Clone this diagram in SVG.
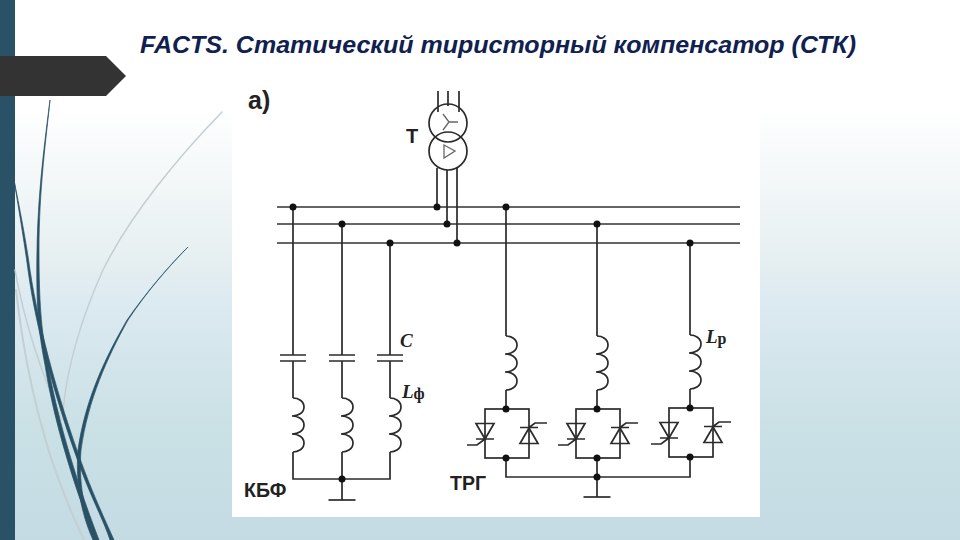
<svg xmlns="http://www.w3.org/2000/svg" width="960" height="540" viewBox="0 0 960 540">
<style>
.w{fill:none;stroke:#2b2b2b;stroke-width:1.7}
.b{fill:none;stroke:#333;stroke-width:1.6}
.d{fill:#111;stroke:none}
.dc{fill:#2a5266;stroke:#2a5266;stroke-width:0.7;stroke-linejoin:round}
.gr{fill:none;stroke:#c4cfd2;stroke-linecap:round}
.s{font-family:"Liberation Sans",Arial,sans-serif;font-weight:bold;fill:#222}
.i{font-family:"Liberation Serif","Times New Roman",serif;font-style:italic;font-weight:bold;fill:#222}
.sub{font-family:"Liberation Serif","Times New Roman",serif;font-weight:bold;fill:#222}
</style>
<defs>
<linearGradient id="bg" x1="0" y1="0" x2="0" y2="1">
<stop offset="0.2" stop-color="#ffffff"/>
<stop offset="0.48" stop-color="#e6eff1"/>
<stop offset="0.56" stop-color="#dceaf1"/>
<stop offset="0.8" stop-color="#c9e0e5"/>
<stop offset="1" stop-color="#c5dbe4"/>
</linearGradient>
<path id="coil" class="w" d="M0,0C5,0 11,3 11,9C11,15 5,18 -1,18C5,18 11,21 11,27C11,33 5,36 -1,36C5,36 11,39 11,45C11,51 5,54 0,54"/>
<g id="cap"><path class="w" d="M-13,0H13M-13,6H13"/></g>
<g id="thy">
<rect class="w" x="-21" y="0" width="44" height="49"/>
<path class="w" d="M-30,14.500H-12L-21,30ZM-30,30H-12M-21,30L-29,36H-39"/>
<path class="w" d="M14,34.500H32L23,19ZM14,18.500H32M23,18.500L29,14H41"/>
</g>
<g id="gnd"><path class="w" d="M-13.500,0H13.500"/></g>
</defs>
<rect id="background" width="960" height="540" fill="url(#bg)"/>
<rect id="sidebar" width="15" height="540" fill="#2a5266"/>
<g id="decor">
<path class="gr" stroke-width="1.500" d="M222,112C180,155 130,215 103,270C85,310 68,360 63,410"/>
<path class="gr" stroke-width="2" d="M16,290C22,340 30,390 50,455C60,485 72,515 84,540"/>
<path class="gr" stroke-width="1.500" d="M15,270C24,320 40,370 62,420"/>
<path class="dc" d="M50,100C45,140 38,190 37,250C36,300 38,330 45,365C52,410 68,470 95,540L99,540C72,470 56,410 48,365C41,330 39,300 39,250C39,190 46,140 50,100Z"/>
<path class="dc" d="M14,180C18,205 24,240 28,270C36,330 58,410 85,480C95,505 104,522 110,540L114,540C106,522 98,505 88,480C61,410 39,330 30,270C26,240 19,205 14,180Z"/>
<path class="dc" d="M188,247C170,265 148,290 127,320C105,358 85,400 78,450C75,490 84,520 93,540L97,540C87,520 78,490 81,450C88,400 107,358 128,320C148,290 170,265 188,247Z"/>
</g>
<g id="title-arrow"><path d="M0,56H106L126,76L106,96H0Z" fill="#333333"/></g>
<rect id="panel" x="232" y="80" width="528" height="437" fill="#ffffff"/>
<text id="title" x="140" y="53" font-family="'Liberation Sans',Arial,sans-serif" font-size="23" font-style="italic" font-weight="bold" fill="#10204f" textLength="716" lengthAdjust="spacingAndGlyphs">FACTS. Статический тиристорный компенсатор (СТК)</text>
<g id="connectors">
<path class="b" d="M277,207H740M277,224H740M277,243H740"/>
<path class="w" d="M438,91V112M448,91V106M459,91V112"/>
<path class="w" d="M437,168V207M447,170V224M457,168V243"/>
<path class="w" d="M293,207V355M293,361V398M293,452V479H390V452M390,243V355M390,361V398"/>
<path class="w" d="M342,224V355M342,361V398M342,452V500"/>
<path class="w" d="M506,207V336M506,390V409M506,458V477H690V458M597,224V336M597,390V409M597,458V497M690,243V335M690,389V408"/>
</g>
<g id="transformer-T">
<circle class="w" cx="448" cy="123" r="19"/>
<circle class="w" cx="448" cy="151" r="19"/>
<path d="M449,122L443,114M449,122L458,122M449,122L443,130" fill="none" stroke="#666" stroke-width="1.300"/>
<path d="M444,145L455,151L444,158Z" fill="none" stroke="#666" stroke-width="1.300"/>
</g>
<g id="kbf-1"><use href="#cap" x="293" y="355"/><use href="#coil" x="293" y="398"/></g>
<g id="kbf-2"><use href="#cap" x="342" y="355"/><use href="#coil" x="342" y="398"/></g>
<g id="kbf-3"><use href="#cap" x="390" y="355"/><use href="#coil" x="390" y="398"/></g>
<g id="kbf-ground"><use href="#gnd" x="342" y="500"/></g>
<g id="trg-1"><use href="#coil" x="506" y="336"/><use href="#thy" x="506" y="409"/></g>
<g id="trg-2"><use href="#coil" x="597" y="336"/><use href="#thy" x="597" y="409"/></g>
<g id="trg-3"><use href="#coil" x="690" y="335"/><use href="#thy" x="690" y="408"/></g>
<g id="trg-ground"><use href="#gnd" x="597" y="497"/></g>
<g id="junctions">
<circle class="d" cx="293" cy="207" r="3.500"/><circle class="d" cx="342" cy="224" r="3.500"/><circle class="d" cx="390" cy="243" r="3.500"/>
<circle class="d" cx="437" cy="207" r="3.500"/><circle class="d" cx="447" cy="224" r="3.500"/><circle class="d" cx="457" cy="243" r="3.500"/>
<circle class="d" cx="506" cy="207" r="3.500"/><circle class="d" cx="597" cy="224" r="3.500"/><circle class="d" cx="690" cy="243" r="3.500"/>
<circle class="d" cx="342" cy="479" r="3.500"/>
<circle class="d" cx="506" cy="409" r="3.500"/><circle class="d" cx="506" cy="458" r="3.500"/>
<circle class="d" cx="597" cy="409" r="3.500"/><circle class="d" cx="597" cy="458" r="3.500"/><circle class="d" cx="597" cy="477" r="3.500"/>
<circle class="d" cx="690" cy="408" r="3.500"/><circle class="d" cx="690" cy="457" r="3.500"/>
</g>
<g id="labels">
<text class="s" x="248" y="109" font-size="25">а)</text>
<text class="s" x="406" y="143" font-size="20">Т</text>
<text class="i" x="400" y="347" font-size="19">C</text>
<text class="i" x="402" y="398" font-size="19">L<tspan class="sub" font-style="normal" font-size="16" dy="1">ф</tspan></text>
<text class="i" x="706" y="343" font-size="19">L<tspan class="sub" font-style="normal" font-size="16" dy="1">р</tspan></text>
<text class="s" x="244" y="497" font-size="19.500">КБФ</text>
<text class="s" x="450" y="490" font-size="19.500">ТРГ</text>
</g>
</svg>
